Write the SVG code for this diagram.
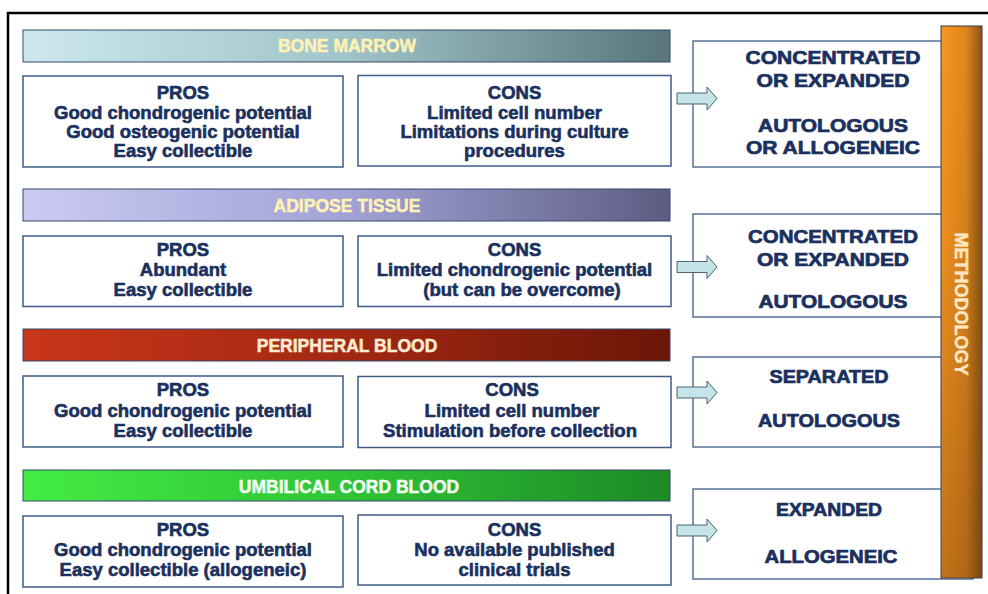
<svg xmlns="http://www.w3.org/2000/svg" width="988" height="594" viewBox="0 0 988 594">
<style>
.frame{fill:none;stroke:#000;stroke-width:2.5}
.bar{stroke:#34496a;stroke-width:1}
.box{fill:#fff;stroke:#3d5b88;stroke-width:1.5}
.mbox{fill:#fff;stroke:#56709a;stroke-width:1.5}
.t{font-family:"Liberation Sans",Arial,sans-serif;font-weight:bold;font-size:18.5px;fill:#1a305e;stroke:#1a305e;stroke-width:0.6;text-anchor:middle}
.m{font-family:"Liberation Sans",Arial,sans-serif;font-weight:bold;font-size:18.5px;fill:#1a305e;stroke:#1a305e;stroke-width:0.7;text-anchor:middle}
.h{font-family:"Liberation Sans",Arial,sans-serif;font-weight:bold;font-size:17.5px;stroke-width:0.5;text-anchor:middle}
.arrow{fill:#c4e4e8;stroke:#4e6272;stroke-width:1}
</style>
<defs>
<linearGradient id="gBone" x1="0" y1="0" x2="1" y2="0"><stop offset="0" stop-color="#cde8ec"/><stop offset="0.5" stop-color="#9fc4c9"/><stop offset="1" stop-color="#587679"/></linearGradient>
<linearGradient id="gAdip" x1="0" y1="0" x2="1" y2="0"><stop offset="0" stop-color="#cbcbf3"/><stop offset="0.5" stop-color="#a2a2d6"/><stop offset="1" stop-color="#5c5c82"/></linearGradient>
<linearGradient id="gPeri" x1="0" y1="0" x2="1" y2="0"><stop offset="0" stop-color="#c9361a"/><stop offset="0.5" stop-color="#a22812"/><stop offset="1" stop-color="#6b1608"/></linearGradient>
<linearGradient id="gUmb" x1="0" y1="0" x2="1" y2="0"><stop offset="0" stop-color="#44ec44"/><stop offset="0.5" stop-color="#2fc335"/><stop offset="1" stop-color="#1c8a26"/></linearGradient>
<linearGradient id="gOr" x1="0" y1="0" x2="1" y2="0"><stop offset="0" stop-color="#f7971f"/><stop offset="0.6" stop-color="#e0861d"/><stop offset="1" stop-color="#8a5318"/></linearGradient>
<linearGradient id="gOrV" x1="0" y1="0" x2="0" y2="1"><stop offset="0" stop-color="#5a300a" stop-opacity="0"/><stop offset="0.4" stop-color="#5a300a" stop-opacity="0.08"/><stop offset="1" stop-color="#5a300a" stop-opacity="0.35"/></linearGradient>
<path id="arr" d="M0,-5.5 H30 V-11.5 L40,0 L30,11.5 V5.5 H0 Z"/>
</defs>

<rect class="frame" x="8" y="13" width="1000" height="600"/>

<g id="bone-marrow-header">
<rect class="bar" x="23" y="30" width="647" height="32" fill="url(#gBone)"/>
<text class="h" x="347" y="51.5" fill="#fff2b4" stroke="#fff2b4">BONE MARROW</text>
</g>
<g id="bone-marrow-pros">
<rect class="box" x="23" y="76" width="320" height="91"/>
<text class="t" x="183" y="99">PROS</text>
<text class="t" x="183" y="118.5">Good chondrogenic potential</text>
<text class="t" x="183" y="137.5">Good osteogenic potential</text>
<text class="t" x="183" y="157">Easy collectible</text>
</g>
<g id="bone-marrow-cons">
<rect class="box" x="358" y="75.5" width="313" height="90.5"/>
<text class="t" x="514.5" y="99">CONS</text>
<text class="t" x="514.5" y="118.5">Limited cell number</text>
<text class="t" x="514.5" y="137.5">Limitations during culture</text>
<text class="t" x="514.5" y="157">procedures</text>
</g>
<g id="bone-marrow-method">
<rect class="mbox" x="693" y="41" width="280" height="126"/>
<text class="m" x="833" y="64" textLength="175" lengthAdjust="spacingAndGlyphs">CONCENTRATED</text>
<text class="m" x="833" y="86.5" textLength="153" lengthAdjust="spacingAndGlyphs">OR EXPANDED</text>
<text class="m" x="833" y="132" textLength="150" lengthAdjust="spacingAndGlyphs">AUTOLOGOUS</text>
<text class="m" x="833" y="154" textLength="174" lengthAdjust="spacingAndGlyphs">OR ALLOGENEIC</text>
</g>

<g id="adipose-header">
<rect class="bar" x="23" y="189" width="647" height="32" fill="url(#gAdip)"/>
<text class="h" x="347" y="211.5" fill="#fff2b4" stroke="#fff2b4">ADIPOSE TISSUE</text>
</g>
<g id="adipose-pros">
<rect class="box" x="23" y="236" width="320" height="70.5"/>
<text class="t" x="183" y="256">PROS</text>
<text class="t" x="183" y="276">Abundant</text>
<text class="t" x="183" y="296">Easy collectible</text>
</g>
<g id="adipose-cons">
<rect class="box" x="358" y="236" width="313" height="70.5"/>
<text class="t" x="514.5" y="256">CONS</text>
<text class="t" x="514.5" y="276">Limited chondrogenic potential</text>
<text class="t" x="522" y="296">(but can be overcome)</text>
</g>
<g id="adipose-method">
<rect class="mbox" x="693" y="214" width="280" height="103"/>
<text class="m" x="833" y="243" textLength="170" lengthAdjust="spacingAndGlyphs">CONCENTRATED</text>
<text class="m" x="833" y="265.5" textLength="152" lengthAdjust="spacingAndGlyphs">OR EXPANDED</text>
<text class="m" x="833" y="307.5" textLength="149" lengthAdjust="spacingAndGlyphs">AUTOLOGOUS</text>
</g>

<g id="peripheral-header">
<rect class="bar" x="23" y="329" width="647" height="32" fill="url(#gPeri)"/>
<text class="h" x="347" y="352" fill="#fdebd0" stroke="#fdebd0">PERIPHERAL BLOOD</text>
</g>
<g id="peripheral-pros">
<rect class="box" x="23" y="376" width="320" height="71"/>
<text class="t" x="183" y="396">PROS</text>
<text class="t" x="183" y="416.5">Good chondrogenic potential</text>
<text class="t" x="183" y="436.5">Easy collectible</text>
</g>
<g id="peripheral-cons">
<rect class="box" x="358" y="376.5" width="313" height="71"/>
<text class="t" x="512" y="396">CONS</text>
<text class="t" x="512" y="416.5">Limited cell number</text>
<text class="t" x="510" y="436.5">Stimulation before collection</text>
</g>
<g id="peripheral-method">
<rect class="mbox" x="693" y="357" width="280" height="90"/>
<text class="m" x="829" y="383" textLength="119" lengthAdjust="spacingAndGlyphs">SEPARATED</text>
<text class="m" x="829" y="427" textLength="142" lengthAdjust="spacingAndGlyphs">AUTOLOGOUS</text>
</g>

<g id="umbilical-header">
<rect class="bar" x="23" y="470" width="647" height="31" fill="url(#gUmb)"/>
<text class="h" x="349" y="493" fill="#f2fff0" stroke="#f2fff0">UMBILICAL CORD BLOOD</text>
</g>
<g id="umbilical-pros">
<rect class="box" x="23" y="516" width="320" height="71"/>
<text class="t" x="183" y="536">PROS</text>
<text class="t" x="183" y="556">Good chondrogenic potential</text>
<text class="t" x="183" y="576">Easy collectible (allogeneic)</text>
</g>
<g id="umbilical-cons">
<rect class="box" x="358" y="515" width="313" height="70"/>
<text class="t" x="514.5" y="536">CONS</text>
<text class="t" x="514.5" y="556">No available published</text>
<text class="t" x="514.5" y="576">clinical trials</text>
</g>
<g id="umbilical-method">
<rect class="mbox" x="693" y="489" width="280" height="90"/>
<text class="m" x="829" y="515.5" textLength="106" lengthAdjust="spacingAndGlyphs">EXPANDED</text>
<text class="m" x="831" y="562.5" textLength="133" lengthAdjust="spacingAndGlyphs">ALLOGENEIC</text>
</g>

<g id="methodology">
<rect x="941" y="26" width="41" height="552" fill="url(#gOr)" stroke="#3a3640" stroke-width="1"/>
<rect x="941.5" y="26.5" width="40" height="551" fill="url(#gOrV)"/>
<text class="h" transform="translate(955,304) rotate(90)" style="font-size:18px" fill="#fbe6c2" stroke="#fbe6c2">METHODOLOGY</text>
</g>

<g id="connectors">
<use href="#arr" class="arrow" transform="translate(677,98.5)"/>
<use href="#arr" class="arrow" transform="translate(677,267)"/>
<use href="#arr" class="arrow" transform="translate(677,392.5)"/>
<use href="#arr" class="arrow" transform="translate(677,530.5)"/>
</g>
</svg>
